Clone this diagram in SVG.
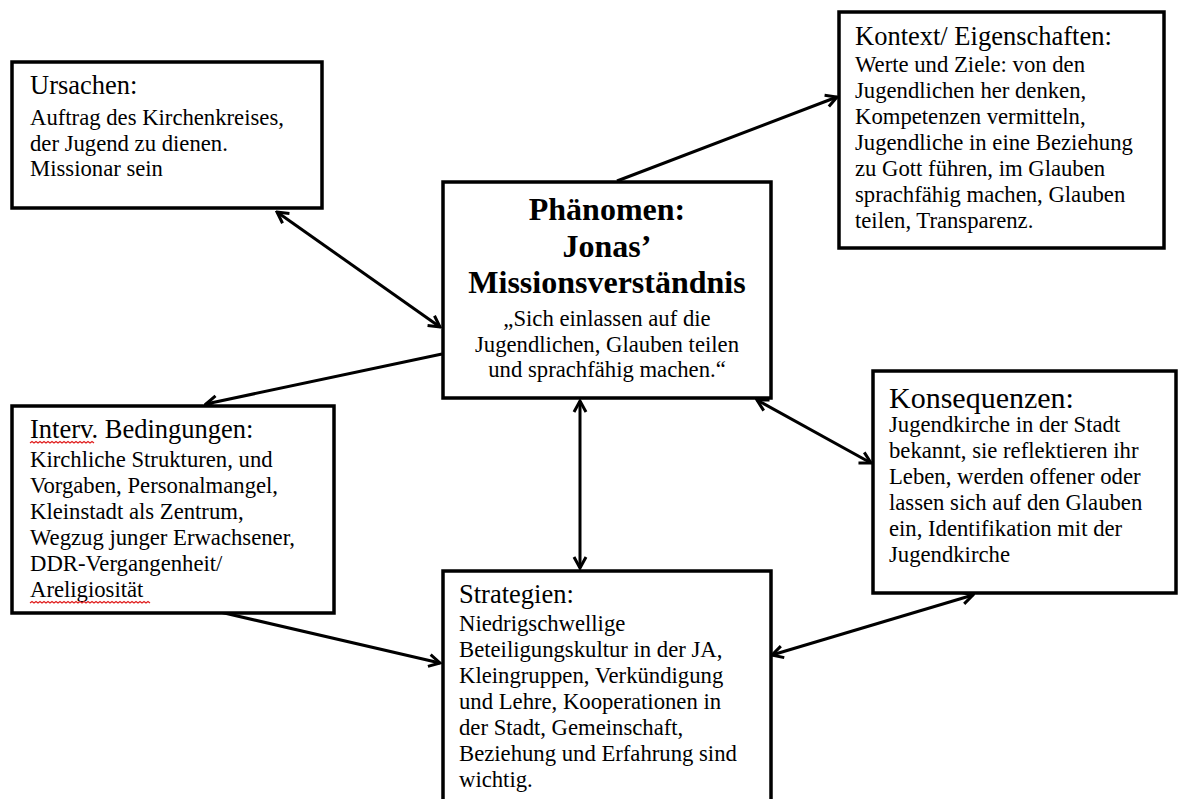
<svg xmlns="http://www.w3.org/2000/svg" width="1179" height="799" viewBox="0 0 1179 799">
  <style>
    .box { fill: #fff; stroke: #000; stroke-width: 3.5; }
    text { font-family: "Liberation Serif", "Times New Roman", serif; fill: #000; }
    .head { font-size: 26.5px; }
    .head-lg { font-size: 30px; }
    .title { font-size: 32px; font-weight: bold; text-anchor: middle; }
    .body { font-size: 22.7px; }
    .quote { font-size: 22.7px; text-anchor: middle; }
    .link { fill: none; stroke: #000; stroke-width: 3; }
    .spell { fill: none; stroke: #e02020; stroke-width: 1.2; }
  </style>
  <defs>
    <marker id="tip" viewBox="0 0 16 16" refX="14" refY="8" markerWidth="16" markerHeight="16" markerUnits="userSpaceOnUse" orient="auto-start-reverse">
      <path d="M3,2 L14,8 L3,14" fill="none" stroke="#000" stroke-width="3" stroke-linejoin="miter"/>
    </marker>
  </defs>

  <rect width="1179" height="799" fill="#fff"/>

  <!-- connectors -->
  <g id="connectors">
    <line class="link" x1="277" y1="212" x2="440" y2="327" marker-start="url(#tip)" marker-end="url(#tip)"/>
    <line class="link" x1="442" y1="354" x2="206" y2="404" marker-end="url(#tip)"/>
    <line class="link" x1="617" y1="181" x2="837" y2="97" marker-end="url(#tip)"/>
    <line class="link" x1="580" y1="401" x2="580" y2="568" marker-start="url(#tip)" marker-end="url(#tip)"/>
    <line class="link" x1="757" y1="400" x2="871" y2="463" marker-start="url(#tip)" marker-end="url(#tip)"/>
    <line class="link" x1="220" y1="612" x2="440" y2="663" marker-end="url(#tip)"/>
    <line class="link" x1="772" y1="655" x2="973" y2="595" marker-start="url(#tip)" marker-end="url(#tip)"/>
  </g>

  <!-- Ursachen -->
  <g id="ursachen">
    <rect class="box" x="12" y="62" width="310" height="146"/>
    <text class="head" x="30" y="94">Ursachen:</text>
    <text class="body" x="30" y="125">Auftrag des Kirchenkreises,</text>
    <text class="body" x="30" y="150.5">der Jugend zu dienen.</text>
    <text class="body" x="30" y="176">Missionar sein</text>
  </g>

  <!-- Kontext / Eigenschaften -->
  <g id="kontext">
    <rect class="box" x="839" y="12" width="325" height="236"/>
    <text class="head" x="855" y="45">Kontext/ Eigenschaften:</text>
    <text class="body" x="855" y="72">Werte und Ziele: von den</text>
    <text class="body" x="855" y="98">Jugendlichen her denken,</text>
    <text class="body" x="855" y="124">Kompetenzen vermitteln,</text>
    <text class="body" x="855" y="150">Jugendliche in eine Beziehung</text>
    <text class="body" x="855" y="176">zu Gott führen, im Glauben</text>
    <text class="body" x="855" y="202">sprachfähig machen, Glauben</text>
    <text class="body" x="855" y="228">teilen, Transparenz.</text>
  </g>

  <!-- Phänomen -->
  <g id="phaenomen">
    <rect class="box" x="443" y="182" width="328" height="216"/>
    <text class="title" x="607" y="220">Phänomen:</text>
    <text class="title" x="607" y="257">Jonas’</text>
    <text class="title" x="607" y="293">Missionsverständnis</text>
    <text class="quote" x="607" y="326">„Sich einlassen auf die</text>
    <text class="quote" x="607" y="351.5">Jugendlichen, Glauben teilen</text>
    <text class="quote" x="607" y="377">und sprachfähig machen.“</text>
  </g>

  <!-- Intervenierende Bedingungen -->
  <g id="interv">
    <rect class="box" x="12" y="406" width="322" height="207"/>
    <text class="head" x="30" y="438">Interv. Bedingungen:</text>
    <path class="spell" d="M30,443 l2,-1.5 l2,1.5 l2,-1.5 l2,1.5 l2,-1.5 l2,1.5 l2,-1.5 l2,1.5 l2,-1.5 l2,1.5 l2,-1.5 l2,1.5 l2,-1.5 l2,1.5 l2,-1.5 l2,1.5 l2,-1.5 l2,1.5 l2,-1.5 l2,1.5 l2,-1.5 l2,1.5 l2,-1.5 l2,1.5 l2,-1.5 l2,1.5 l2,-1.5 l2,1.5 l2,-1.5 l2,1.5 l2,-1.5 l2,1.5"/>
    <text class="body" x="30" y="467">Kirchliche Strukturen, und</text>
    <text class="body" x="30" y="493">Vorgaben, Personalmangel,</text>
    <text class="body" x="30" y="519">Kleinstadt als Zentrum,</text>
    <text class="body" x="30" y="545">Wegzug junger Erwachsener,</text>
    <text class="body" x="30" y="571">DDR-Vergangenheit/</text>
    <text class="body" x="30" y="597">Areligiosität</text>
    <path class="spell" d="M30,603 l2,-1.5 l2,1.5 l2,-1.5 l2,1.5 l2,-1.5 l2,1.5 l2,-1.5 l2,1.5 l2,-1.5 l2,1.5 l2,-1.5 l2,1.5 l2,-1.5 l2,1.5 l2,-1.5 l2,1.5 l2,-1.5 l2,1.5 l2,-1.5 l2,1.5 l2,-1.5 l2,1.5 l2,-1.5 l2,1.5 l2,-1.5 l2,1.5 l2,-1.5 l2,1.5 l2,-1.5 l2,1.5 l2,-1.5 l2,1.5 l2,-1.5 l2,1.5 l2,-1.5 l2,1.5 l2,-1.5 l2,1.5 l2,-1.5 l2,1.5 l2,-1.5 l2,1.5 l2,-1.5 l2,1.5 l2,-1.5 l2,1.5 l2,-1.5 l2,1.5 l2,-1.5 l2,1.5 l2,-1.5 l2,1.5 l2,-1.5 l2,1.5 l2,-1.5 l2,1.5 l2,-1.5 l2,1.5 l2,-1.5 l2,1.5"/>
  </g>

  <!-- Konsequenzen -->
  <g id="konsequenzen">
    <rect class="box" x="873" y="371" width="303" height="222"/>
    <text class="head-lg" x="889" y="408">Konsequenzen:</text>
    <text class="body" x="889" y="432">Jugendkirche in der Stadt</text>
    <text class="body" x="889" y="458">bekannt, sie reflektieren ihr</text>
    <text class="body" x="889" y="484">Leben, werden offener oder</text>
    <text class="body" x="889" y="510">lassen sich auf den Glauben</text>
    <text class="body" x="889" y="536">ein, Identifikation mit der</text>
    <text class="body" x="889" y="562">Jugendkirche</text>
  </g>

  <!-- Strategien -->
  <g id="strategien">
    <rect class="box" x="443" y="571" width="328" height="240"/>
    <text class="head" x="459" y="603">Strategien:</text>
    <text class="body" x="459" y="631">Niedrigschwellige</text>
    <text class="body" x="459" y="657">Beteiligungskultur in der JA,</text>
    <text class="body" x="459" y="683">Kleingruppen, Verkündigung</text>
    <text class="body" x="459" y="709">und Lehre, Kooperationen in</text>
    <text class="body" x="459" y="735">der Stadt, Gemeinschaft,</text>
    <text class="body" x="459" y="761">Beziehung und Erfahrung sind</text>
    <text class="body" x="459" y="787">wichtig.</text>
  </g>
</svg>
